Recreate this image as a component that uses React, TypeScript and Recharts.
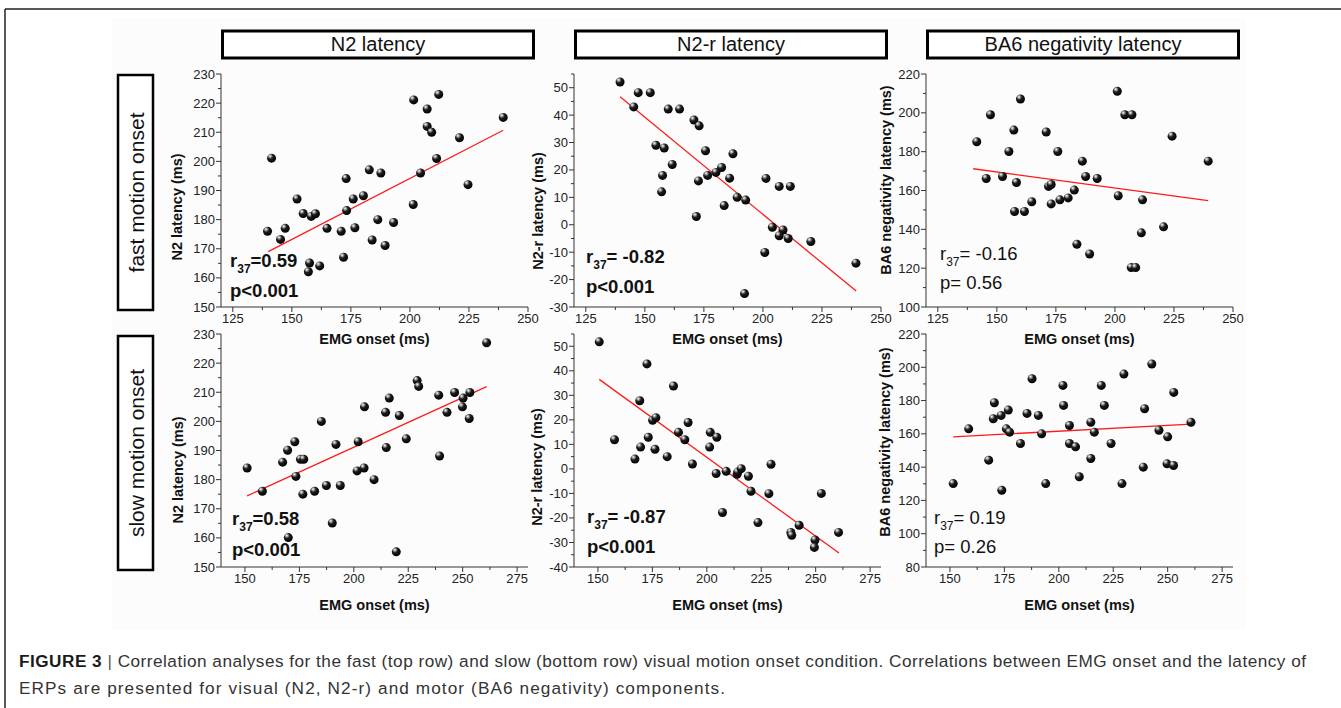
import React from 'react';
import { ScatterChart, Scatter, XAxis, YAxis } from 'recharts';

const FONT = '"Liberation Sans", Arial, Helvetica, sans-serif';

type Pt = [number, number];

// ---------- data: [EMG onset (ms), latency (ms)] ----------
const fastN2: Pt[] = [
  [139.7, 176], [141.4, 201.1], [145.2, 173.2], [147.2, 177], [152.2, 187.1], [154.8, 182.1],
  [158.2, 181.1], [160, 182], [157.5, 165.1], [157, 162.1], [161.8, 164.1], [164.9, 177],
  [170.9, 176], [171.9, 167.1], [173, 194.1], [173.2, 183.1], [176, 187.1], [176.7, 177.2],
  [180.3, 188.2], [182.8, 197.1], [184, 173], [186.4, 180], [187.7, 196], [189.5, 171.1],
  [193.1, 179], [201.6, 221.1], [201.4, 185.2], [204.5, 196], [207.3, 218], [207.3, 212],
  [209.2, 210], [212.2, 223], [211.3, 201], [221, 208.1], [224.6, 192], [239.5, 215.1],
];
const fastN2r: Pt[] = [
  [139.5, 52.1], [145.3, 43], [147.2, 48.2], [152.3, 48.2], [159.9, 42.2], [164.7, 42.2],
  [170.8, 38.2], [173, 36.1], [154.7, 29], [158.2, 28], [161.6, 22], [157.5, 18],
  [157.1, 12], [175.7, 27], [187.3, 25.9], [182.5, 20.9], [180.1, 19.1], [176.6, 18],
  [172.7, 16], [185.9, 17], [189.1, 10], [192.7, 9], [183.6, 7], [171.8, 3],
  [201.3, 16.9], [206.9, 14], [211.6, 14], [204, -0.9], [208.5, -1.9], [206.9, -4],
  [210.7, -5], [220.3, -6.1], [200.8, -10.1], [239.4, -14], [192.2, -25.1],
];
const fastBA6: Pt[] = [
  [141.5, 185.1], [145.5, 166.2], [147.3, 199], [152.4, 167.2], [155.1, 180.1], [157.2, 191.1],
  [158.3, 164.1], [157.5, 149.2], [160, 207.1], [161.7, 149.2], [164.8, 154.2], [170.9, 190.1],
  [171.9, 162.1], [173, 163.1], [173, 153.1], [175.8, 180.1], [176.7, 155.2], [180.2, 156.2],
  [182.8, 160.2], [186.2, 175.1], [187.6, 167.2], [183.9, 132.3], [189.3, 127.3], [192.5, 166.2],
  [201, 211.1], [201.4, 157.3], [204.2, 199], [207.2, 199], [206.9, 120.3], [208.8, 120.3],
  [211.2, 138.2], [211.7, 155.2], [220.6, 141.3], [224.2, 188], [239.5, 175.1],
];
const slowN2: Pt[] = [
  [151, 184], [158, 176], [167.3, 186], [169.6, 190.1], [172.9, 193], [173.4, 181.1],
  [175.5, 187], [177, 187], [176.6, 175], [169.9, 160.1], [182, 176], [185.1, 200],
  [187.4, 178], [190.1, 165.1], [191.8, 192.1], [193.8, 178], [201.5, 183], [202, 193],
  [204.7, 184], [204.9, 205], [209.3, 180], [214.6, 203.1], [214.9, 191], [216.3, 208],
  [219.5, 155.2], [220.9, 202], [224.1, 194], [229.1, 214], [229.8, 212], [239, 209],
  [239.4, 188.1], [242.8, 203.1], [246.3, 209.9], [250.2, 208], [249.9, 205], [253.3, 209.9],
  [253, 201], [261, 227],
];
const slowN2r: Pt[] = [
  [150.6, 51.8], [172.5, 42.8], [184.7, 33.8], [169.2, 27.8], [175.1, 19.8], [176.6, 20.9],
  [157.6, 11.9], [173.1, 12.9], [169.6, 8.9], [176.2, 8], [167, 4], [181.8, 5],
  [187, 14.9], [189.9, 11.9], [191.4, 18.9], [193.4, 2], [201.3, 8.9], [201.6, 14.9],
  [204.6, 12.9], [204.3, -1.9], [207.2, -17.8], [208.9, -1], [213.9, -2.2], [214.2, -1.3],
  [215.8, 0.1], [219.1, -3], [220.3, -9.1], [228.5, -10.1], [229.5, 1.9], [252.6, -10],
  [223.5, -21.9], [238.6, -25.9], [239, -27.1], [242.4, -23], [249.7, -29], [249.4, -32],
  [260.5, -25.9],
];
const slowBA6: Pt[] = [
  [151.5, 130.1], [158.6, 163], [167.8, 144.2], [170.4, 178.7], [169.9, 169.1], [173.5, 171.1],
  [173.8, 126.1], [176.8, 174.3], [175.9, 163], [177.4, 161], [182.4, 154.2], [185.4, 172.3],
  [187.7, 193.1], [190.6, 171.1], [192.1, 160], [194, 130.1], [201.9, 189.1], [202.2, 177.1],
  [204.9, 165], [204.9, 154.2], [207.7, 152.2], [209.4, 134.2], [214.7, 167], [214.7, 145.2],
  [216.3, 161], [219.5, 189.1], [220.9, 177.1], [224, 154.2], [229.9, 195.9], [229, 130.1],
  [238.8, 140], [239.4, 175.1], [242.7, 202], [246, 162.2], [250, 158.2], [249.7, 142],
  [252.7, 141], [252.8, 184.9], [260.7, 167],
];

// regression line end points
const fitFastN2: Pt[] = [[140, 169], [239.5, 210.7]];
const fitFastN2r: Pt[] = [[139.5, 46.7], [239.5, -24.2]];
const fitFastBA6: Pt[] = [[140, 171.2], [239.5, 154.8]];
const fitSlowN2: Pt[] = [[151, 174.4], [261, 211.9]];
const fitSlowN2r: Pt[] = [[150.6, 36.5], [260.7, -34.3]];
const fitSlowBA6: Pt[] = [[151.5, 158.2], [260.7, 165.8]];

// ticks
const fastXMajor = [125, 150, 175, 200, 225, 250];
const fastXMinor = [137.5, 162.5, 187.5, 212.5, 237.5];
const slowXMajor = [150, 175, 200, 225, 250, 275];
const slowXMinor = [162.5, 187.5, 212.5, 237.5, 262.5];
const n2YMajor = [150, 160, 170, 180, 190, 200, 210, 220, 230];
const n2YMinor = [155, 165, 175, 185, 195, 205, 215, 225];
const fastN2rYMajor = [-30, -20, -10, 0, 10, 20, 30, 40, 50];
const fastN2rYMinor = [-25, -15, -5, 5, 15, 25, 35, 45, 55];
const slowN2rYMajor = [-40, -30, -20, -10, 0, 10, 20, 30, 40, 50];
const slowN2rYMinor = [-35, -25, -15, -5, 5, 15, 25, 35, 45, 55];
const fastBA6YMajor = [100, 120, 140, 160, 180, 200, 220];
const fastBA6YMinor = [110, 130, 150, 170, 190, 210];
const slowBA6YMajor = [80, 100, 120, 140, 160, 180, 200, 220];
const slowBA6YMinor = [90, 110, 130, 150, 170, 190, 210];

const columnTitles = ['N2 latency', 'N2-r latency', 'BA6 negativity latency'];
const rowTitles = ['fast motion onset', 'slow motion onset'];
const yTitles = ['N2 latency (ms)', 'N2-r latency (ms)', 'BA6 negativity latency (ms)'];
const xTitle = 'EMG onset (ms)';
const rValues = ['=0.59', '= -0.82', '= -0.16', '=0.58', '= -0.87', '= 0.19'];
const pValues = ['p<0.001', 'p<0.001', 'p= 0.56', 'p<0.001', 'p<0.001', 'p= 0.26'];

const captionLine1Rest =
  ' Correlation analyses for the fast (top row) and slow (bottom row) visual motion onset condition. Correlations between EMG onset and the latency of';
const captionLine2 =
  'ERPs are presented for visual (N2, N2-r) and motor (BA6 negativity) components.';

// ---------- layout ----------
const COL_X = [221, 574, 926];
const ROW_Y = [74, 334];
const PW = 307;
const PH = 233;
const ML = 60, MT = 10, MR = 12, MB = 40;

interface PanelSpec {
  col: number; row: number;
  xDomain: [number, number]; yDomain: [number, number];
  xMajor: number[]; xMinor: number[]; yMajor: number[]; yMinor: number[];
  points: Pt[]; fit: Pt[];
}

const panels: PanelSpec[] = [
  { col: 0, row: 0, xDomain: [120, 250], yDomain: [150, 230], xMajor: fastXMajor, xMinor: fastXMinor, yMajor: n2YMajor, yMinor: n2YMinor, points: fastN2, fit: fitFastN2 },
  { col: 1, row: 0, xDomain: [120, 250], yDomain: [-30, 55], xMajor: fastXMajor, xMinor: fastXMinor, yMajor: fastN2rYMajor, yMinor: fastN2rYMinor, points: fastN2r, fit: fitFastN2r },
  { col: 2, row: 0, xDomain: [120, 250], yDomain: [100, 220], xMajor: fastXMajor, xMinor: fastXMinor, yMajor: fastBA6YMajor, yMinor: fastBA6YMinor, points: fastBA6, fit: fitFastBA6 },
  { col: 0, row: 1, xDomain: [139, 280], yDomain: [150, 230], xMajor: slowXMajor, xMinor: slowXMinor, yMajor: n2YMajor, yMinor: n2YMinor, points: slowN2, fit: fitSlowN2 },
  { col: 1, row: 1, xDomain: [139, 280], yDomain: [-40, 55], xMajor: slowXMajor, xMinor: slowXMinor, yMajor: slowN2rYMajor, yMinor: slowN2rYMinor, points: slowN2r, fit: fitSlowN2r },
  { col: 2, row: 1, xDomain: [139, 280], yDomain: [80, 220], xMajor: slowXMajor, xMinor: slowXMinor, yMajor: slowBA6YMajor, yMinor: slowBA6YMinor, points: slowBA6, fit: fitSlowBA6 },
];

const AXIS = '#333';

const makeXTick = (majors: number[]) => (props: any) => {
  const { x, y, payload } = props;
  const v = payload.value;
  const major = majors.includes(v);
  return (
    <g>
      <line x1={x} x2={x} y1={y} y2={y + (major ? 5 : 3)} stroke={AXIS} strokeWidth={1} />
      {major && (
        <text x={x} y={y + 16} textAnchor="middle" fontSize={13} fill="#222" fontFamily={FONT}>
          {v}
        </text>
      )}
    </g>
  );
};

const makeYTick = (majors: number[]) => (props: any) => {
  const { x, y, payload } = props;
  const v = payload.value;
  const major = majors.includes(v);
  return (
    <g>
      <line x1={x - (major ? 5 : 3)} x2={x} y1={y} y2={y} stroke={AXIS} strokeWidth={1} />
      {major && (
        <text x={x - 6} y={y + 4.5} textAnchor="end" fontSize={13} fill="#222" fontFamily={FONT}>
          {v}
        </text>
      )}
    </g>
  );
};

const Ball = (props: any) => {
  const { cx, cy } = props;
  if (cx == null || cy == null) return <g />;
  return <circle cx={cx} cy={cy} r={4.5} fill="url(#ballGrad)" />;
};

const NoShape = () => <g />;

function Panel({ p }: { p: PanelSpec }) {
  const data = p.points.map(([x, y]) => ({ x, y }));
  const fitData = p.fit.map(([x, y]) => ({ x, y }));
  const left = COL_X[p.col];
  const top = ROW_Y[p.row];
  return (
    <div style={{ position: 'absolute', left: left - ML, top: top - MT }}>
      <ScatterChart
        width={PW + ML + MR}
        height={PH + MT + MB}
        margin={{ top: MT, right: MR, bottom: MB - 30, left: ML - 50 }}
      >
        <XAxis
          type="number"
          dataKey="x"
          domain={p.xDomain}
          allowDataOverflow
          ticks={[...p.xMajor, ...p.xMinor].sort((a, b) => a - b)}
          interval={0}
          height={30}
          tickSize={0}
          tickMargin={0}
          tickLine={false}
          axisLine={{ stroke: AXIS, strokeWidth: 1 }}
          tick={makeXTick(p.xMajor)}
        />
        <YAxis
          type="number"
          dataKey="y"
          domain={p.yDomain}
          allowDataOverflow
          ticks={[...p.yMajor, ...p.yMinor].sort((a, b) => a - b)}
          interval={0}
          width={50}
          tickSize={0}
          tickMargin={0}
          tickLine={false}
          axisLine={{ stroke: AXIS, strokeWidth: 1 }}
          tick={makeYTick(p.yMajor)}
        />
        <Scatter
          data={fitData}
          line={{ stroke: '#ff1a1a', strokeWidth: 1.3 }}
          shape={NoShape}
          isAnimationActive={false}
        />
        <Scatter data={data} shape={Ball} isAnimationActive={false} />
      </ScatterChart>
    </div>
  );
}

// annotation anchor positions (text positions in the figure)
const statPos = [
  { x: 230, y1: 267, y2: 297, bold: true },
  { x: 586, y1: 263, y2: 293, bold: true },
  { x: 940, y1: 260, y2: 289, bold: false },
  { x: 232, y1: 525, y2: 556, bold: true },
  { x: 587, y1: 523, y2: 553, bold: true },
  { x: 934, y1: 524, y2: 553, bold: false },
];
const yTitlePos = [
  { x: 177, y: 207 }, { x: 538, y: 211 }, { x: 886, y: 180 },
  { x: 178, y: 470 }, { x: 537, y: 467 }, { x: 885, y: 442 },
];

export default function App() {
  return (
    <div
      style={{
        position: 'absolute', left: 0, top: 0, width: 1341, height: 708,
        background: '#fff', overflow: 'hidden', fontFamily: FONT,
      }}
    >
      <svg width={1341} height={708} style={{ position: 'absolute', left: 0, top: 0 }}>
        <defs>
          <radialGradient id="ballGrad" cx="38%" cy="32%" r="70%" fx="32%" fy="26%">
            <stop offset="0%" stopColor="#ffffff" />
            <stop offset="18%" stopColor="#a8a8a8" />
            <stop offset="45%" stopColor="#1c1c1c" />
            <stop offset="100%" stopColor="#000000" />
          </radialGradient>
        </defs>
        <rect x={112} y={18} width={1133} height={612} fill="#fcfcfc" />
      </svg>

      {panels.map((p, i) => (
        <Panel key={i} p={p} />
      ))}

      <svg
        width={1341}
        height={708}
        style={{ position: 'absolute', left: 0, top: 0, pointerEvents: 'none' }}
        fontFamily={FONT}
      >
        {/* frame */}
        <line x1={5} y1={9} x2={1341} y2={9} stroke="#222" strokeWidth={1.5} />
        <line x1={5} y1={9} x2={5} y2={708} stroke="#222" strokeWidth={1.5} />

        {/* column headers */}
        {columnTitles.map((t, i) => (
          <g key={t}>
            <rect x={COL_X[i] + 1.5} y={31} width={PW + 4} height={27} fill="#fff" stroke="#000" strokeWidth={3} />
            <text x={COL_X[i] + 3.5 + PW / 2} y={51} textAnchor="middle" fontSize={20} fill="#111">
              {t}
            </text>
          </g>
        ))}

        {/* row headers */}
        {rowTitles.map((t, i) => {
          const y0 = i === 0 ? 75 : 336;
          const h = i === 0 ? 235 : 234;
          return (
            <g key={t}>
              <rect x={118} y={y0} width={35} height={h} fill="#fff" stroke="#000" strokeWidth={2.5} />
              <text
                transform={`translate(${136.5},${y0 + h / 2}) rotate(-90)`}
                textAnchor="middle"
                dy={7}
                fontSize={21}
                fill="#111"
              >
                {t}
              </text>
            </g>
          );
        })}

        {/* axis titles */}
        {panels.map((p, i) => (
          <text
            key={'xt' + i}
            x={COL_X[p.col] + PW / 2}
            y={p.row === 0 ? 344 : 610}
            textAnchor="middle"
            fontSize={14.5}
            fontWeight="bold"
            fill="#111"
          >
            {xTitle}
          </text>
        ))}
        {panels.map((p, i) => (
          <text
            key={'yt' + i}
            transform={`translate(${yTitlePos[i].x},${yTitlePos[i].y}) rotate(-90)`}
            textAnchor="middle"
            dy={5}
            fontSize={14.5}
            fontWeight="bold"
            fill="#111"
          >
            {yTitles[p.col]}
          </text>
        ))}

        {/* statistics */}
        {statPos.map((s, i) => (
          <g key={'st' + i} fontWeight={s.bold ? 'bold' : 'normal'} fill="#111" fontSize={18.5}>
            <text x={s.x} y={s.y1}>
              r<tspan fontSize={12} dy={6}>37</tspan>
              <tspan dy={-6}>{rValues[i]}</tspan>
            </text>
            <text x={s.x} y={s.y2}>{pValues[i]}</text>
          </g>
        ))}

        {/* caption */}
        <text x={19} y={667} fontSize={17.2} fill="#333" textLength={1287} lengthAdjust="spacing">
          <tspan fontWeight="bold" fill="#1a1a1a">FIGURE 3</tspan>
          <tspan fill="#555"> | </tspan>
          <tspan>{captionLine1Rest}</tspan>
        </text>
        <text x={19} y={694} fontSize={17.2} fill="#333" textLength={706} lengthAdjust="spacing">
          {captionLine2}
        </text>
      </svg>
    </div>
  );
}
